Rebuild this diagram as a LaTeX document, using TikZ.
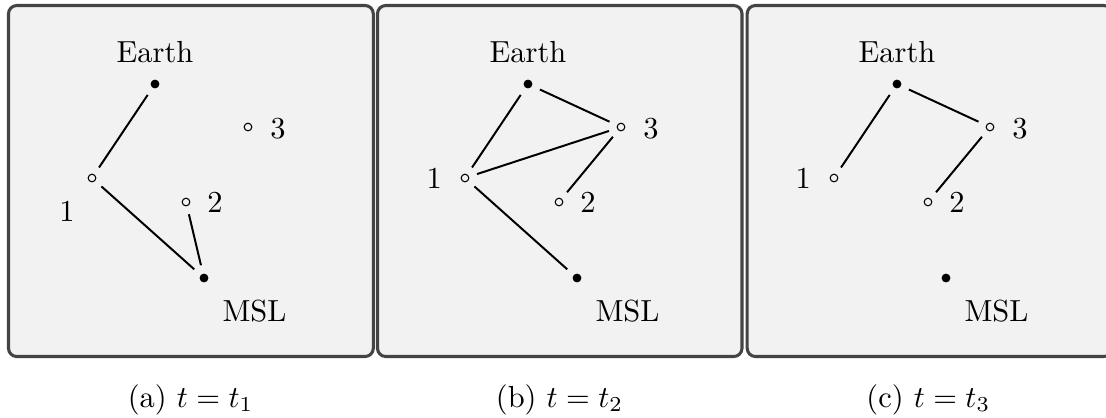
\documentclass[tikz,border=0pt]{standalone}
\usepackage{tikz}
\definecolor{boxfill}{RGB}{242,242,242}
\definecolor{boxline}{RGB}{68,68,68}
\begin{document}
\begin{tikzpicture}[x=0.328pt,y=-0.328pt,
  panel/.style={draw=boxline, fill=boxfill, line width=1pt, rounded corners=2.7pt},
  hostdot/.style={circle, fill=black, inner sep=0pt, minimum size=2.9pt, outer sep=2.85pt},
  relay/.style={circle, draw=black, fill=boxfill, line width=0.35pt, inner sep=0pt, minimum size=2.5pt, outer sep=2.9pt},
  link/.style={line width=0.65pt},
  lbl/.style={anchor=base, inner sep=0pt},
  subcap/.style={anchor=base, inner sep=0pt}
]
\useasboundingbox (0,0) rectangle (1106,417);
\clip (0,0) rectangle (1106,417);
\fill[white] (0,0) rectangle (1106,417);

% panel boxes
\draw[panel] (8.5,5.5) rectangle (373.3,356.5);
\draw[panel] (377.5,5.5) rectangle (742,356.5);
\draw[panel] (747.2,5.5) rectangle (1112,356.5);

% (a)
\begin{scope}[shift={(0,0)}]
\node[hostdot] (Ea) at (155,84) {};
\node[relay] (Aa) at (92,178) {};
\node[relay] (Ba) at (186,202) {};
\node[relay] (Ca) at (248,127) {};
\node[hostdot] (Ma) at (204,278) {};
\node[lbl] (EaL) at (155,62) {Earth};
\node[lbl] (AaL) at (67,221.5) {1};
\node[lbl] (BaL) at (215,212.5) {2};
\node[lbl] (CaL) at (278,138) {3};
\node[lbl] (MaL) at (254.5,321.5) {MSL};
\draw[link] (Ea) -- (Aa);
\draw[link] (Aa) -- (Ma);
\draw[link] (Ba) -- (Ma);
\end{scope}

% (b)
\begin{scope}[shift={(373,0)}]
\node[hostdot] (Eb) at (155,84) {};
\node[relay] (Ab) at (92,178) {};
\node[relay] (Bb) at (186,202) {};
\node[relay] (Cb) at (248,127) {};
\node[hostdot] (Mb) at (204,278) {};
\node[lbl] (EbL) at (155,62) {Earth};
\node[lbl] (AbL) at (61.3,188) {1};
\node[lbl] (BbL) at (215,212.5) {2};
\node[lbl] (CbL) at (278,138) {3};
\node[lbl] (MbL) at (254.5,321.5) {MSL};
\draw[link] (Eb) -- (Ab);
\draw[link] (Eb) -- (Cb);
\draw[link] (Ab) -- (Cb);
\draw[link] (Cb) -- (Bb);
\draw[link] (Ab) -- (Mb);
\end{scope}

% (c)
\begin{scope}[shift={(742,0)}]
\node[hostdot] (Ec) at (155,84) {};
\node[relay] (Ac) at (92,178) {};
\node[relay] (Bc) at (186,202) {};
\node[relay] (Cc) at (248,127) {};
\node[hostdot] (Mc) at (204,278) {};
\node[lbl] (EcL) at (155,62) {Earth};
\node[lbl] (AcL) at (61.3,188) {1};
\node[lbl] (BcL) at (215,212.5) {2};
\node[lbl] (CcL) at (278,138) {3};
\node[lbl] (McL) at (254.5,321.5) {MSL};
\draw[link] (Ec) -- (Ac);
\draw[link] (Ec) -- (Cc);
\draw[link] (Cc) -- (Bc);
\end{scope}

% captions
\node[subcap] (capa) at (190.5,407) {(a) $t=t_1$};
\node[subcap] (capb) at (559.5,407) {(b) $t=t_2$};
\node[subcap] (capc) at (928.3,407) {(c) $t=t_3$};
\end{tikzpicture}
\end{document}
